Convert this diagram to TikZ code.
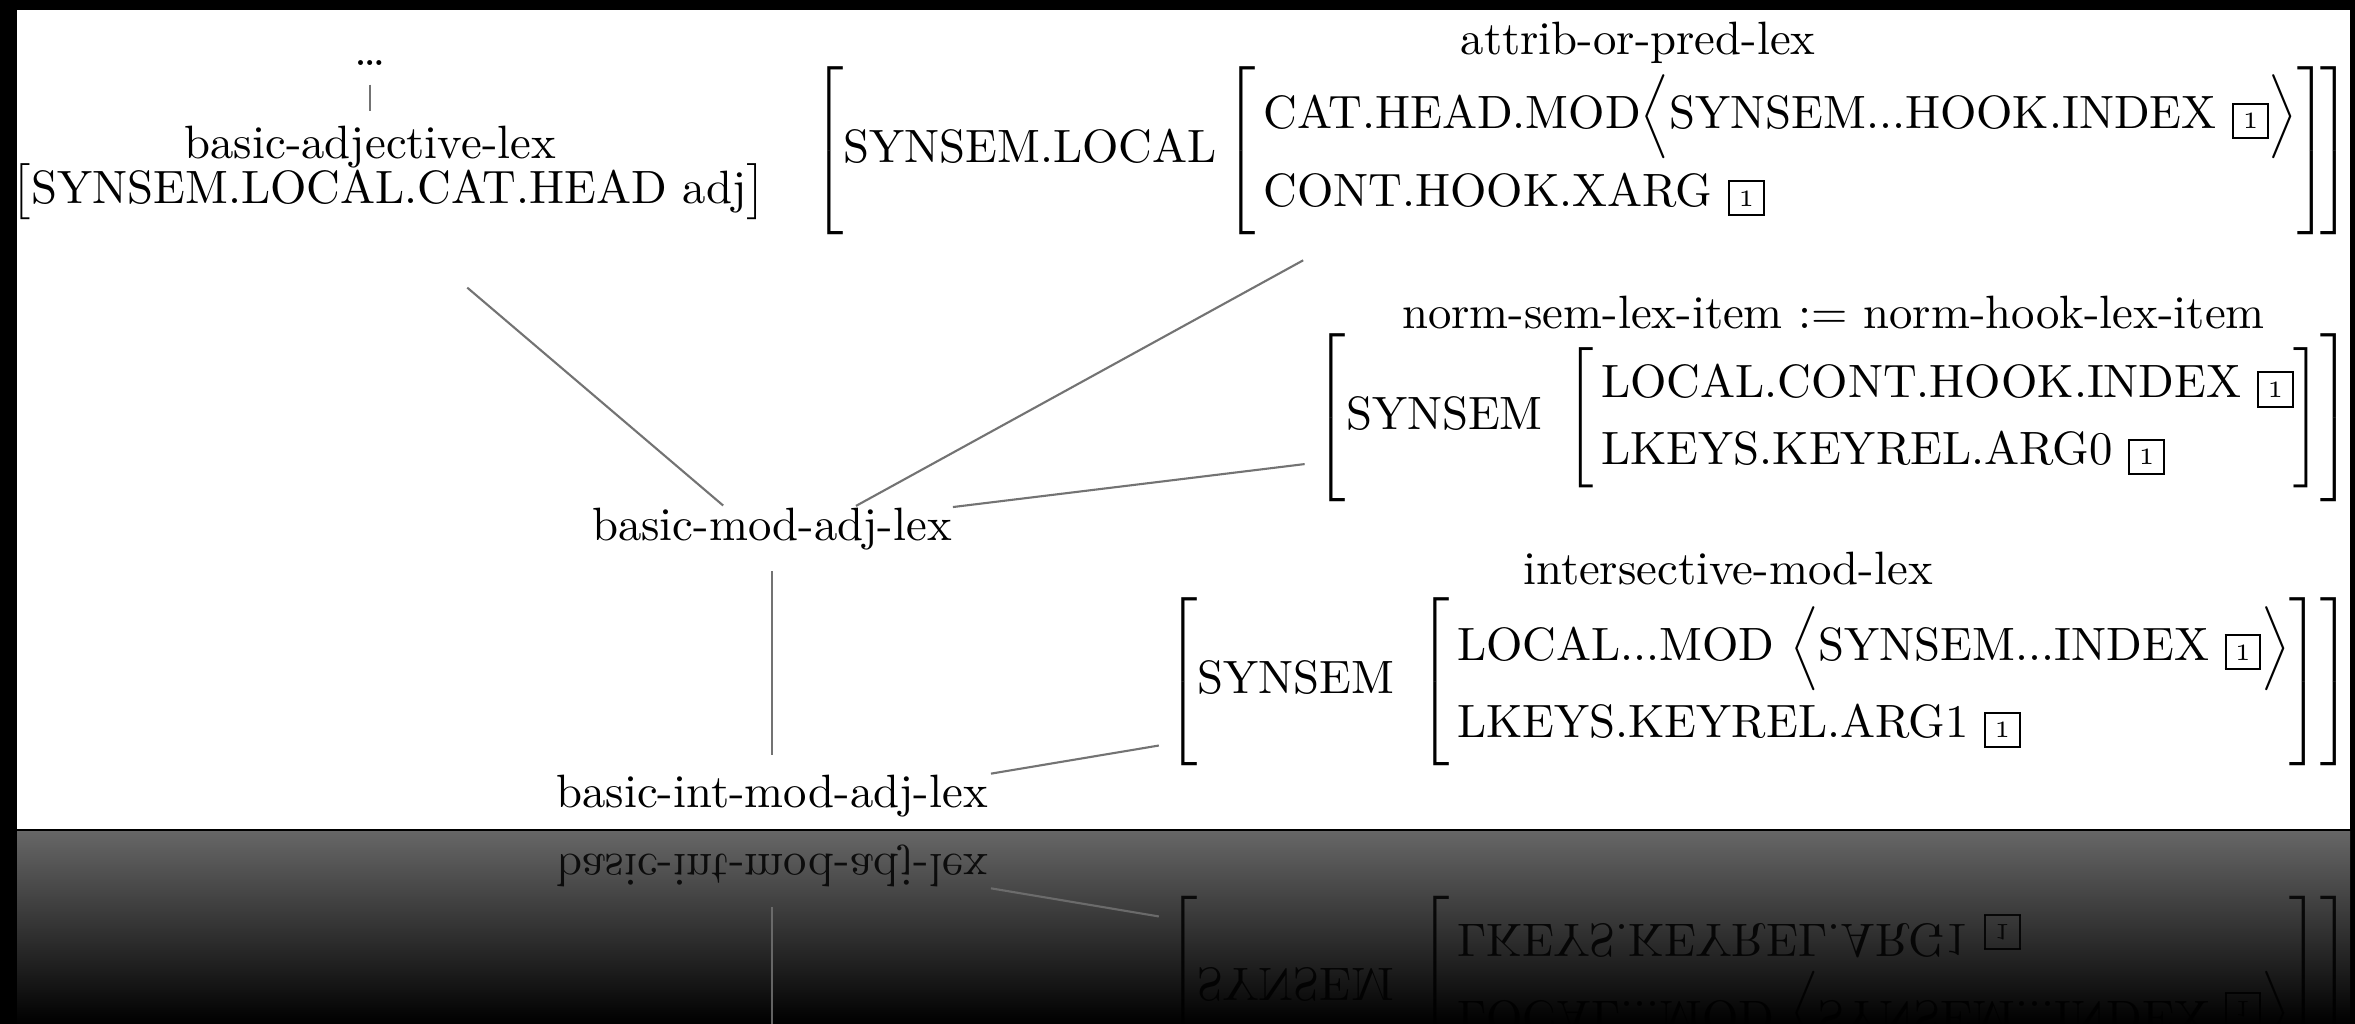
\documentclass[tikz,border=0pt]{standalone}
\usepackage{amsmath}
\usepackage{tikz}
\usetikzlibrary{positioning}
\newcommand{\tagbox}[1]{{\setlength{\fboxsep}{1.8pt}\setlength{\fboxrule}{0.4pt}\fbox{\tiny #1}}}
\renewcommand{\arraystretch}{1.2}
\delimitershortfall=0pt
\begin{document}
\begin{tikzpicture}[x=0.2139pt,y=-0.2139pt]
		\tikzstyle{typename} = [inner sep=0pt, text centered]
		\tikzstyle{avm} = [inner sep=0pt, anchor=east]
		\tikzstyle{link} = [draw=black!55, line width=0.45pt]
		\fill[black] (0,0) rectangle (2355,1024);
		\fill[white] (17,10) rectangle (2350,829);
		\shade[top color=black!60, bottom color=black] (17,832) rectangle (2350,1024);
		\foreach \flip/\cliptop/\op in {1/10/1, -1/638/0.85} {
		\begin{scope}[shift={(0,{(1-\flip)*831})}, yscale=\flip, transform shape, opacity=\op]
		\clip (17,\cliptop) rectangle (2350,829.5);
		\node (adjAVM) [inner sep=0pt] at (389,192) {$\big[\text{SYNSEM.LOCAL.CAT.HEAD adj}\big]$};
		\node (adjType) [typename, above=-1.3pt of adjAVM, xshift=-4pt] {basic-adjective-lex};
		\node (dots) [typename, above=12.5pt of adjType] {\dots};
		\node (attribAVM) [avm] at (2353,150.5) {$\left[\text{SYNSEM.LOCAL}\left[\begin{array}{@{\,}l@{}}
			\text{CAT.HEAD.MOD}\Big\langle\text{SYNSEM...HOOK.INDEX}\ \tagbox{1}\Big\rangle\\
			\text{CONT.HOOK.XARG}\ \tagbox{1}\end{array}\right]\!\right]$};
		\node (attribType) [typename, above=0.2pt of attribAVM, xshift=12pt] {attrib-or-pred-lex};
		\node (normAVM) [avm] at (2353,417.5) {$\left[\text{SYNSEM}\ \left[\begin{array}{@{\,}l@{}}
			\text{LOCAL.CONT.HOOK.INDEX}\ \tagbox{1}\\
			\text{LKEYS.KEYREL.ARG0}\ \tagbox{1}\end{array}\right]\right]$};
		\node (normType) [typename, above=0.5pt of normAVM] {norm-sem-lex-item := norm-hook-lex-item};
		\node (intAVM) [avm] at (2353,682) {$\left[\text{SYNSEM}\ \left[\begin{array}{@{\,}l@{}}
			\text{LOCAL...MOD}\ \Big\langle\text{SYNSEM...INDEX}\ \tagbox{1}\Big\rangle\\[1.5pt]
			\text{LKEYS.KEYREL.ARG1}\ \tagbox{1}\end{array}\right]\right]$};
		\node (intType) [typename, above=2.3pt of intAVM, xshift=-6.7pt] {intersective-mod-lex};
		\node (modadj) [typename] at (772,529) {basic-mod-adj-lex};
		\node (intmodadj) [typename] at (772,796) {basic-int-mod-adj-lex};
		\draw [link, shorten <=3.8pt, shorten >=3pt] (dots) -- (adjType);
		\draw [link, shorten <=22pt, shorten >=0.5pt] (adjAVM.south) -- (modadj.155);
		\draw [link, shorten <=11pt, shorten >=0.5pt] (attribAVM.200) -- (modadj.15);
		\draw [link, shorten <=2pt] (normAVM.185) -- (modadj.north east);
		\draw [link, shorten <=4.3pt, shorten >=4pt] (modadj) -- (intmodadj);
		\draw [link, shorten <=1.5pt, shorten >=0.5pt] (intAVM.186) -- (intmodadj.north east);
		\end{scope}
		}
\end{tikzpicture}
\end{document}
